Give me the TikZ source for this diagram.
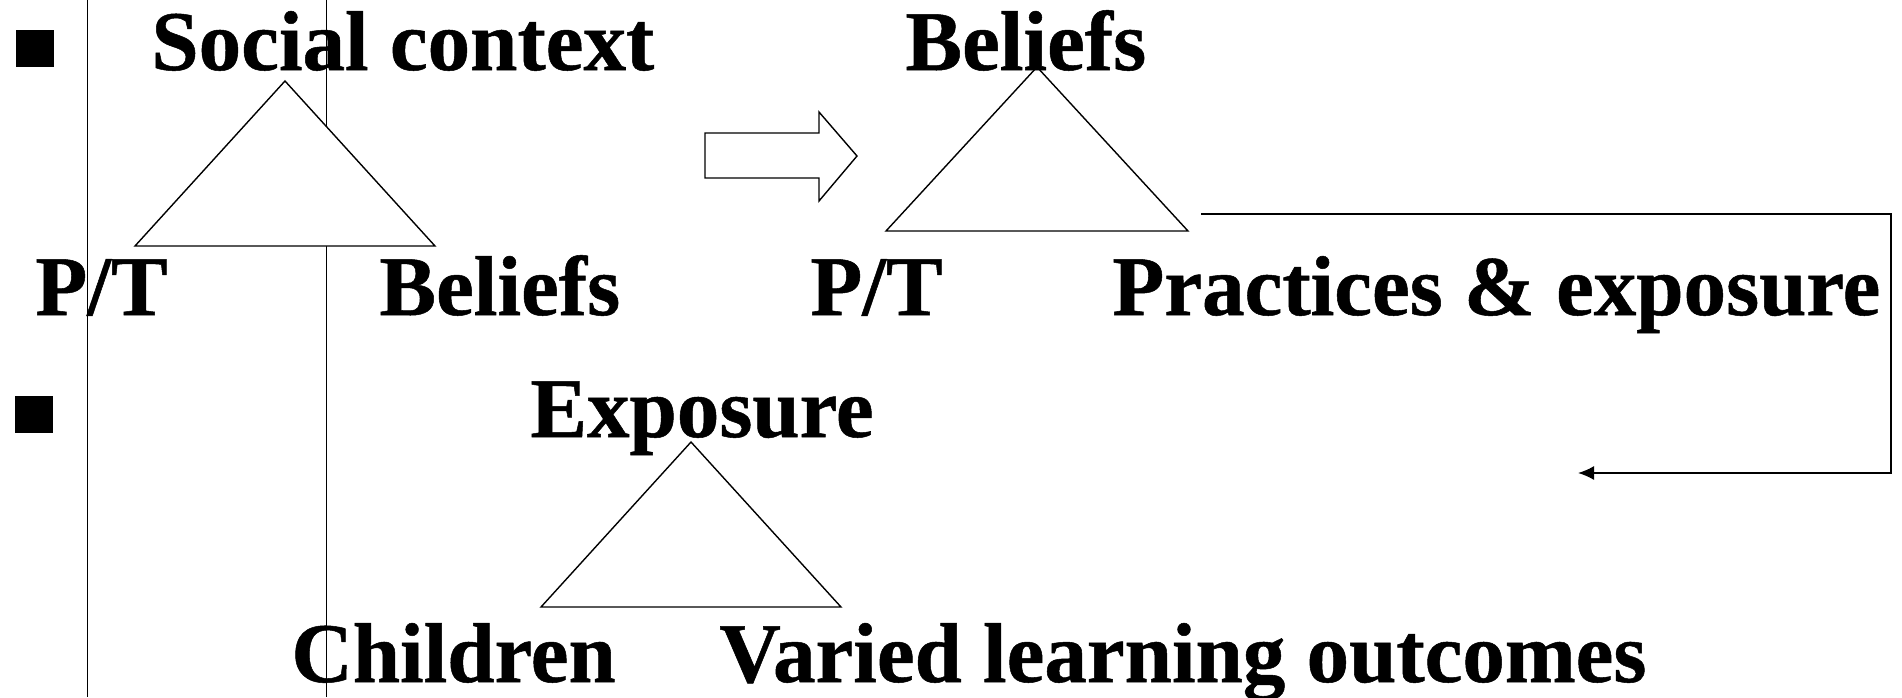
\documentclass[tikz,border=0pt]{standalone}
\usepackage{fontspec}
\setmainfont[BoldFeatures={FakeBold=0.6}]{Liberation Serif}
\usetikzlibrary{arrows.meta}

\begin{document}
\begin{tikzpicture}[x=0.5pt, y=-0.5pt,
  word/.style={anchor=base west, inner sep=0pt, font=\fontsize{42.5}{50}\selectfont\bfseries},
  tri/.style={draw, fill=white, line width=0.7pt},
  bulletbox/.style={fill=black, inner sep=0pt, minimum width=19pt, minimum height=18.5pt}]

\useasboundingbox (0,0) rectangle (1902,697);

\draw[line width=0.5pt] (87,0) -- (87,697);
\draw[line width=0.5pt] (326,0) -- (326,697);

\node[bulletbox] (bullet1) at (34.5,48) {};
\node[bulletbox] (bullet2) at (34,414.5) {};

\draw[tri] (285,81) -- (435,246) -- (135,246) -- cycle;
\draw[tri] (1037,67) -- (1188,231) -- (886,231) -- cycle;
\draw[tri] (691,442) -- (841,607) -- (541,607) -- cycle;

\draw[line width=0.7pt] (705,133) -- (819,133) -- (819,112) -- (857,156) -- (819,201) -- (819,178) -- (705,178) -- cycle;

\node[word] (social) at (151,70) {Social context};
\node[word] (beliefstop) at (905,70) {Beliefs};
\node[word] (ptleft) at (35,315) {P/T};
\node[word] (beliefsleft) at (379,315) {Beliefs};
\node[word] (ptright) at (810,315) {P/T};
\node[word] (practices) at (1112,315) {Practices \& exposure};
\node[word] (exposure) at (530,437) {Exposure};
\node[word] (children) at (291,682) {Children};
\node[word] (outcomes) at (719,682) {Varied learning outcomes};

\coordinate (loopstart) at (1201,214);
\coordinate (loopend) at (1578,473);
\draw[line width=0.8pt, -{Latex[length=8pt,width=7pt]}] (loopstart) -- (1891,214) |- (loopend);

\end{tikzpicture}
\end{document}
